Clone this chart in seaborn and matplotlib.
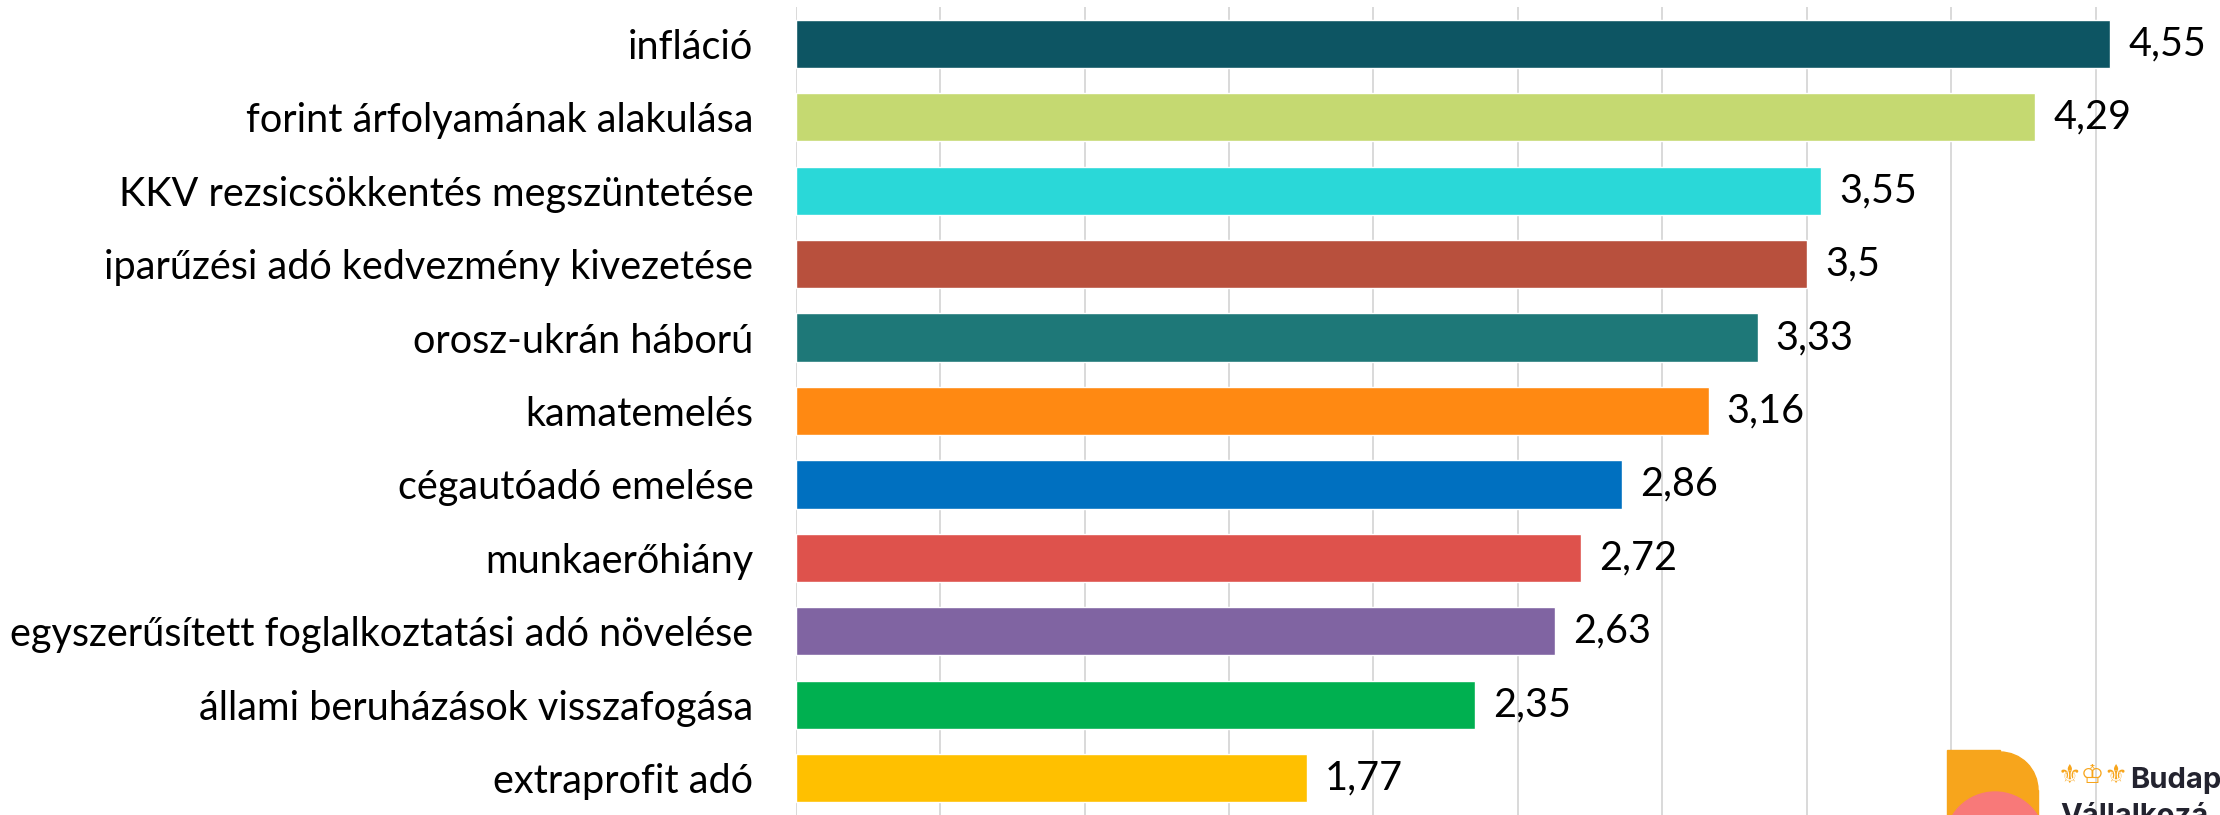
import matplotlib
matplotlib.use("Agg")
import matplotlib.pyplot as plt
import seaborn as sns
import pandas as pd
from matplotlib.patches import Wedge, Rectangle, Circle

categories = [
    "infláció",
    "forint árfolyamának alakulása",
    "KKV rezsicsökkentés megszüntetése",
    "iparűzési adó kedvezmény kivezetése",
    "orosz-ukrán háború",
    "kamatemelés",
    "cégautóadó emelése",
    "munkaerőhiány",
    "egyszerűsített foglalkoztatási adó növelése",
    "állami beruházások visszafogása",
    "extraprofit adó",
]
values = [4.55, 4.29, 3.55, 3.5, 3.33, 3.16, 2.86, 2.72, 2.63, 2.35, 1.77]
value_labels = ["4,55", "4,29", "3,55", "3,5", "3,33", "3,16", "2,86", "2,72", "2,63", "2,35", "1,77"]
colors = ["#0D5563", "#C5D971", "#2AD8D8", "#B8503D", "#1E7878", "#FF8912",
          "#0070C0", "#DE524C", "#8064A2", "#00B050", "#FFC000"]

sns.set_style("white")
plt.rcParams["font.family"] = ["Lato", "DejaVu Sans"]

df = pd.DataFrame({"cat": categories, "val": values})

W, H = 2220, 815
fig = plt.figure(figsize=(22.2, 8.15), dpi=100)
ax = fig.add_axes([0.3584, 0.0, 0.6416, 0.9914])

sns.barplot(data=df, x="val", y="cat", hue="cat", palette=colors, order=categories,
            hue_order=categories, orient="h", width=0.655, legend=False, ax=ax,
            saturation=1)

ax.set_xlim(0, 4.93)
ax.set_ylim(10.5, -0.5)
ax.set_xticks([i * 0.5 for i in range(10)])
ax.xaxis.grid(True, color="#D9D9D9", linewidth=1.4)
ax.set_axisbelow(True)
for s in ax.spines.values():
    s.set_visible(False)
ax.set_xlabel("")
ax.set_ylabel("")
ax.tick_params(axis="x", bottom=False, labelbottom=False)
ax.tick_params(axis="y", left=False, pad=27)

fs = 28.5
for t in ax.get_yticklabels():
    t.set_fontsize(fs)
    t.set_color("#000000")

for i, (v, lab) in enumerate(zip(values, value_labels)):
    ax.annotate(lab, xy=(v, i), xytext=(13, 0), textcoords="offset points",
                va="center", ha="left", fontsize=fs, color="#000000")

# partial logo at the bottom right corner (pixel coords, origin bottom-left)
orange = "#F7A51C"
fig.patches.append(Rectangle((1947, 0), 53, H - 750, transform=None, color=orange, zorder=5))
fig.patches.append(Rectangle((2000, 0), 38, H - 790, transform=None, color=orange, zorder=5))
fig.patches.append(Wedge((2000, H - 790), 38, 0, 90, transform=None, color=orange, zorder=5))
fig.patches.append(Circle((1995, H - 842), 50, transform=None, color="#F87979", zorder=6))
fig.text(2058 / W, (H - 776) / H, "⚜♔⚜", fontsize=19, color=orange,
         ha="left", va="center", family=["DejaVu Sans"])
fig.text(2130 / W, (H - 788) / H, "Budap", fontsize=21, color="#23232F",
         ha="left", va="baseline", fontweight="bold", family=["Inter", "DejaVu Sans"])
fig.text(2060 / W, (H - 803) / H, "Vállalkozá", fontsize=21, color="#23232F",
         ha="left", va="top", fontweight="bold", family=["Inter", "DejaVu Sans"])

fig.savefig("out.png", dpi=100)
